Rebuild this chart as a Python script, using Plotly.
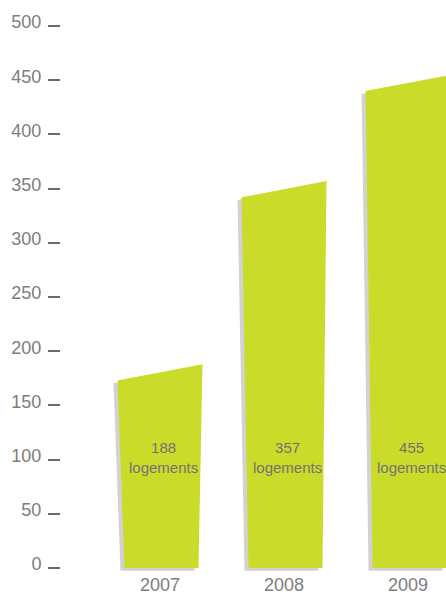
import plotly.graph_objects as go

# ---- data ----
years = ["2007", "2008", "2009"]
logements = [188, 357, 455]
label_suffix = "logements"
y_ticks = [0, 50, 100, 150, 200, 250, 300, 350, 400, 450, 500]

# ---- style ----
GREEN = "#CBDB2A"
SHADOW = "#D2D2D4"
TEXT = "#7d7d7d"
HALF = 0.3425          # half bar width (x units)
SLANT = 15             # top edge drop on left side (y units)
INSET_L = 0.056        # left edge inset at bottom
INSET_R = 0.032        # right edge inset at bottom
SH_DX, SH_DY = -0.032, -2.6
LABEL_Y = 102

fig = go.Figure()

for i, v in enumerate(logements):
    xs = [i - HALF, i + HALF, i + HALF - INSET_R, i - HALF + INSET_L, i - HALF]
    ys = [v - SLANT, v, 0, 0, v - SLANT]
    fig.add_trace(go.Scatter(
        x=[x + SH_DX for x in xs], y=[y + SH_DY for y in ys],
        mode="lines", fill="toself", fillcolor=SHADOW,
        line=dict(width=0), hoverinfo="skip", showlegend=False))
    fig.add_trace(go.Scatter(
        x=xs, y=ys, mode="lines", fill="toself", fillcolor=GREEN,
        line=dict(width=0), hoverinfo="skip", showlegend=False))
    fig.add_annotation(
        x=i + 0.03, y=LABEL_Y, text=f"{v}<br>{label_suffix}", showarrow=False,
        font=dict(family="Liberation Sans, Arial", size=15, color="#727272"),
        xanchor="center", yanchor="middle")

fig.update_layout(
    width=446, height=594,
    margin=dict(l=61, r=0, t=10, b=19),
    paper_bgcolor="white", plot_bgcolor="white",
    font=dict(family="Liberation Sans, Arial", color=TEXT),
    xaxis=dict(
        range=[-0.798, 2.306], tickmode="array", tickvals=list(range(len(years))),
        ticktext=years, showgrid=False, zeroline=False, showline=False,
        ticks="", tickfont=dict(size=18, color=TEXT), fixedrange=True,
        automargin=False, ticklabelstandoff=-3),
    yaxis=dict(
        range=[-6.46, 514.8], tickmode="array", tickvals=y_ticks,
        ticktext=[str(t) for t in y_ticks],
        showgrid=False, zeroline=False, showline=False,
        ticks="outside", ticklen=12, tickwidth=1.6, tickcolor="#6a6a6a",
        tickfont=dict(size=18, color=TEXT), ticklabelshift=-4,
        ticklabelstandoff=3, fixedrange=True, automargin=False),
)

fig.write_html(
    "out.html",
    config={"displayModeBar": False},
    post_script="document.body.style.margin='0';document.body.style.overflow='hidden';",
)
